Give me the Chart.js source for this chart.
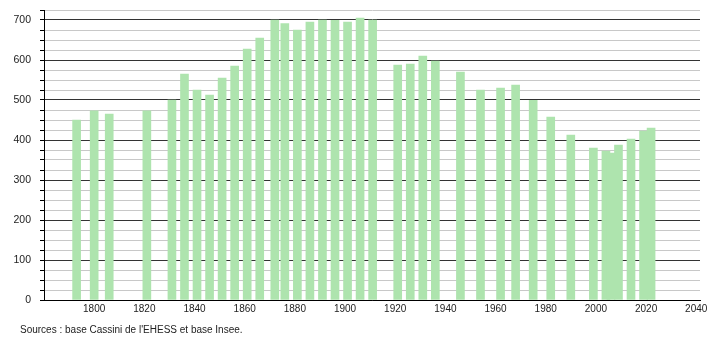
<!DOCTYPE html>
<html>
<head>
<meta charset="utf-8">
<script src="https://cdn.jsdelivr.net/npm/chart.js@4"></script>
<style>
  html, body { margin:0; padding:0; background:#fff; }
  #wrap { width:710px; height:340px; }
</style>
</head>
<body>
<div id="wrap"><canvas id="pop" width="710" height="340"></canvas></div>
<script>
// population by census year
const years = [1793, 1800, 1806, 1821, 1831, 1836, 1841, 1846, 1851, 1856, 1861, 1866,
  1872, 1876, 1881, 1886, 1891, 1896, 1901, 1906, 1911, 1921, 1926, 1931, 1936,
  1946, 1954, 1962, 1968, 1975, 1982, 1990, 1999, 2004, 2006, 2009, 2014, 2019, 2022];
const population = [450, 473, 465, 473, 500, 565, 525, 512, 555, 585, 627, 655,
  700, 691, 675, 695, 700, 699, 695, 705, 700, 587, 590, 610, 597,
  570, 525, 530, 537, 499, 457, 412, 380, 372, 367, 387, 402, 422, 430];
const sourceText = "Sources : base Cassini de l'EHESS et base Insee.";

const FONT = "'Liberation Sans', Arial, sans-serif";

const sourcePlugin = {
  id: 'source',
  afterDraw(chart) {
    const c = chart.ctx;
    c.save();
    c.font = '10px ' + FONT;
    c.fillStyle = '#222';
    c.textBaseline = 'alphabetic';
    c.fillText(sourceText, 20, 333);
    c.restore();
  }
};

new Chart(document.getElementById('pop'), {
  type: 'bar',
  data: {
    datasets: [{
      data: years.map((y, i) => ({ x: y, y: population[i] })),
      backgroundColor: 'rgb(174,228,174)',
      borderWidth: 0,
      barThickness: 8,
    }]
  },
  options: {
    responsive: false,
    animation: false,
    layout: { padding: { top: 10, right: 10, left: 0, bottom: 0 } },
    plugins: { legend: { display: false }, tooltip: { enabled: false } },
    scales: {
      x: {
        type: 'linear',
        offset: false,
        min: 1780, max: 2041.5,
        afterFit: s => { s.height = 40; s.paddingLeft = 0; s.paddingRight = 0; },
        grid: { display: false, drawTicks: false, tickLength: 0 },
        border: { display: true, color: '#000', width: 1 },
        ticks: {
          stepSize: 20, includeBounds: false, autoSkip: false, maxRotation: 0, padding: 3,
          color: '#222', font: { family: FONT, size: 10 },
          callback: v => (v % 20 === 0 && v > 1780) ? String(v) : ''
        }
      },
      y: {
        min: 0, max: 725,
        afterFit: s => { s.width = 44; s.paddingTop = 0; s.paddingBottom = 0; },
        border: { display: true, color: '#000', width: 1 },
        grid: {
          color: ctx => (ctx.tick && ctx.tick.value % 100 === 0) ? '#333' : '#c8c8c8',
          tickColor: '#000',
          tickLength: 4,
          lineWidth: 1,
        },
        ticks: {
          stepSize: 25, autoSkip: false, padding: 9,
          color: '#222', font: { family: FONT, size: 10.5 },
          callback: v => (v % 100 === 0) ? String(v) : ''
        }
      }
    }
  },
  plugins: [sourcePlugin]
});
</script>
</body>
</html>
